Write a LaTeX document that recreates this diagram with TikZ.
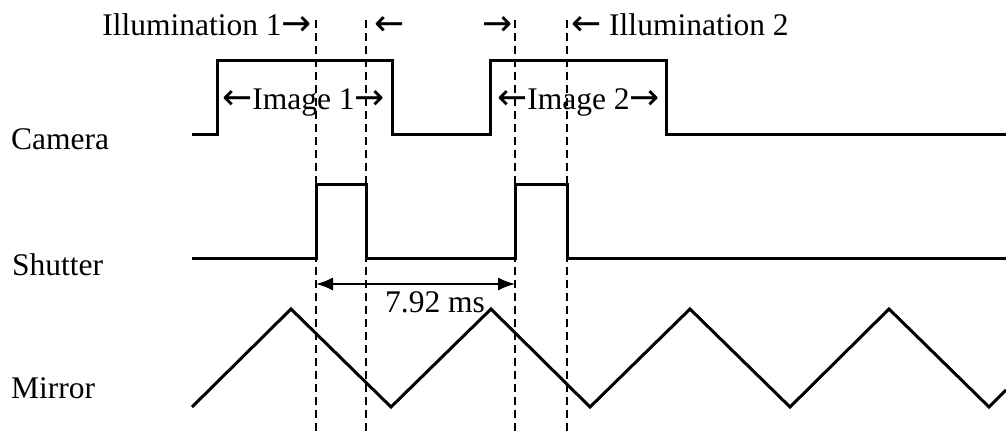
\documentclass[tikz,border=0pt]{standalone}
\usepackage{fontspec}
\setmainfont{Liberation Serif}
\newfontfamily\arrowfont{DejaVu Sans}
\newcommand\ra{{\arrowfont\fontsize{36}{36}\selectfont →}}
\newcommand\la{{\arrowfont\fontsize{36}{36}\selectfont ←}}
\usetikzlibrary{arrows.meta}
\begin{document}
\begin{tikzpicture}[x=1pt,y=-1pt,
  wave/.style={line width=3pt},
  guide/.style={line width=1.6pt, dash pattern=on 8pt off 5pt},
  dim/.style={line width=1.6pt, {Latex[length=17pt,width=13pt]}-{Latex[length=17pt,width=13pt]}},
  lbl/.style={inner sep=0pt, font=\fontsize{31.5}{36}\selectfont}]
\useasboundingbox (0,0) rectangle (1006,434);

% exposure window guides
\foreach \n/\x in {a/316, b/366, c/515, d/567} {
  \coordinate (\n top) at (\x,20);
  \coordinate (\n bot) at (\x,434);
  \draw[guide] (\n top) -- (\n bot);
}

% camera trace
\draw[wave] (192,134) -- (217,134) -- (217,60) -- (392,60) -- (392,134)
  -- (490,134) -- (490,60) -- (666,60) -- (666,134) -- (1006,134);

% shutter trace
\draw[wave] (192,258) -- (316,258) -- (316,184) -- (366,184) -- (366,258)
  -- (515,258) -- (515,184) -- (567,184) -- (567,258) -- (1006,258);

% mirror scan (triangle wave)
\draw[wave] (192,407) -- (291,309) -- (391,407) -- (491,309) -- (590,407)
  -- (690,309) -- (790,407) -- (889,309) -- (989,407) -- (1006,390);

% period between shutter openings
\coordinate (p1) at (316,284);
\coordinate (p2) at (515,284);
\draw[dim] (p1) -- (p2);
\node[lbl, anchor=base west] (period) at (385,312) {7.92 ms};

% row labels
\node[lbl, anchor=base west] (camera) at (11,149) {Camera};
\node[lbl, anchor=base west] (shutter) at (12,275) {Shutter};
\node[lbl, anchor=base west] (mirror) at (11,398) {Mirror};

% illumination markers
\node[lbl, anchor=base east] (ill1) at (312,35) {Illumination 1\ra};
\node[lbl, anchor=base west] (ill1r) at (374,35) {\la};
\node[lbl, anchor=base west] (ill2l) at (482,35) {\ra};
\node[lbl, anchor=base west] (ill2) at (571,35) {\la\ Illumination 2};

% image exposure labels
\node[lbl, anchor=base west] (img1) at (222,109) {\la Image 1\ra};
\node[lbl, anchor=base west] (img2) at (497,109) {\la Image 2\ra};
\end{tikzpicture}
\end{document}
